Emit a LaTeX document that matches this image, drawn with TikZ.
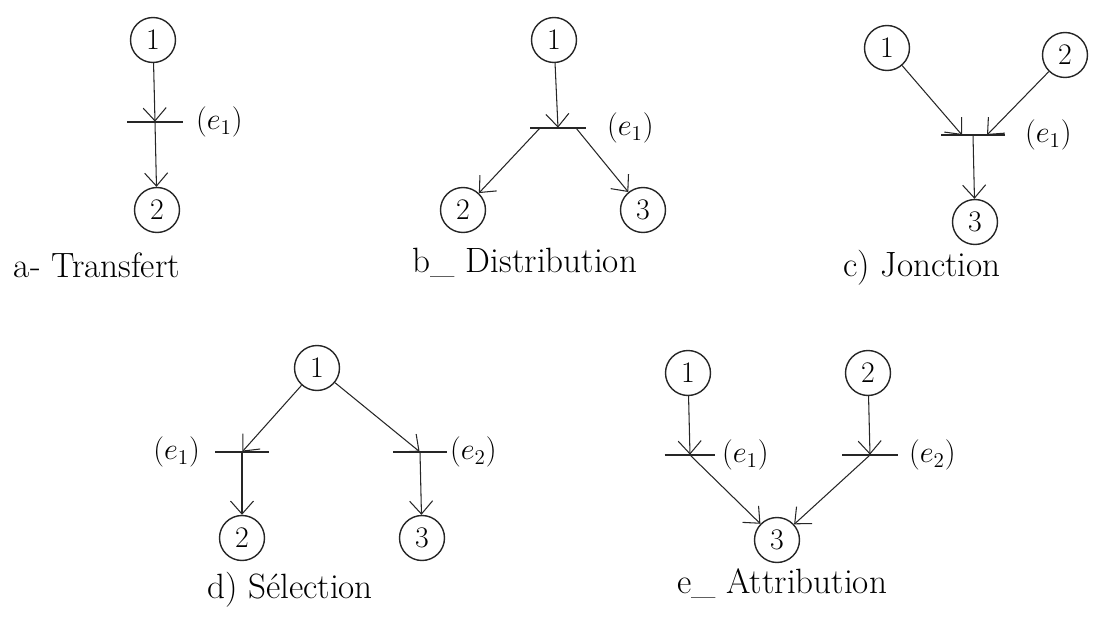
\documentclass[tikz,border=0pt]{standalone}
\usetikzlibrary{arrows.meta,positioning,calc}
\tikzset{
  place/.style={circle, draw=black!85, line width=0.8pt, minimum size=0.9cm, inner sep=0pt, font=\fontsize{17}{19}\selectfont},
  trans/.style={rectangle, minimum height=0pt, inner sep=0pt, minimum width=#1,
    append after command={(\tikzlastnode.west) edge[barLine] (\tikzlastnode.east)}},
  trans/.default=1.1cm,
  barLine/.style={draw=black!85, line width=0.6pt},
  arc/.style={-{Straight Barb[length=2.6mm,width=4.6mm]}, line width=0.6pt, draw=black!85},
  transLabel/.style={font=\fontsize{17}{19}\selectfont},
  caption/.style={font=\fontsize{20}{22}\selectfont}
}
\begin{document}
\begin{tikzpicture}[x=0.02cm, y=-0.02cm]
  \useasboundingbox (0,0) rectangle (1093,625);

  % a- Transfert
  \node[place] (a1) at (153,40) {1};
  \node[trans] (ta) at (155,122) {};
  \node[place] (a2) at (157,210) {2};
  \node[transLabel, anchor=west] (la) at (190,122) {$(e_1)$};
  \node[caption] (capa) at (97,265) {a- Transfert};
  \draw[arc] (a1) -- (ta);
  \draw[arc] (ta) -- (a2);

  % b- Distribution
  \node[place] (b1) at (554,40) {1};
  \node[trans] (tb) at (558,128) {};
  \node[place] (b2) at (463,210) {2};
  \node[place] (b3) at (643,210) {3};
  \node[transLabel, anchor=west] (lb) at (601,128) {$(e_1)$};
  \node[caption] (capb) at (525,263) {b\_ Distribution};
  \coordinate (tbL) at ($(tb)+(-18,0)$);
  \coordinate (tbR) at ($(tb)+(18,0)$);
  \draw[arc] (b1) -- (tb);
  \draw[arc] (tbL) -- (b2);
  \draw[arc] (tbR) -- (b3);

  % c) Jonction
  \node[place] (c1) at (887,48) {1};
  \node[place] (c2) at (1065,55) {2};
  \node[trans=1.26cm] (tc) at (973,135) {};
  \node[place] (c3) at (975,222) {3};
  \node[transLabel, anchor=west] (lc) at (1019,135) {$(e_1)$};
  \node[caption] (capc) at (922,268) {c) Jonction};
  \coordinate (tcL) at ($(tc)+(-11,0)$);
  \coordinate (tcR) at ($(tc)+(14,0)$);
  \draw[arc] (c1) -- (tcL);
  \draw[arc] (c2) -- (tcR);
  \draw[arc] (tc) -- (c3);

  % d) Selection
  \node[place] (d1) at (317,368) {1};
  \node[trans=1.06cm] (td1) at (242,452) {};
  \node[trans=1.06cm] (td2) at (420,452) {};
  \node[place] (d2) at (242,538) {2};
  \node[place] (d3) at (422,538) {3};
  \node[transLabel, anchor=east] (ld1) at (206,452) {$(e_1)$};
  \node[transLabel, anchor=west] (ld2) at (444,452) {$(e_2)$};
  \node[caption] (capd) at (290,590) {d) Sélection};
  \draw[arc] (d1) -- (td1);
  \draw[arc] (d1) -- (td2);
  \draw[arc] (td1) -- (d2);
  \draw[arc] (td2) -- (d3);

  % e- Attribution
  \node[place] (e1) at (688,373) {1};
  \node[place] (e2) at (868,373) {2};
  \node[trans=1.0cm] (te1) at (690,455) {};
  \node[trans=1.1cm] (te2) at (870,455) {};
  \node[place] (e3) at (777,540) {3};
  \node[transLabel, anchor=west] (le1) at (716,455) {$(e_1)$};
  \node[transLabel, anchor=west] (le2) at (903,455) {$(e_2)$};
  \node[caption] (cape) at (782,583) {e\_ Attribution};
  \draw[arc] (e1) -- (te1);
  \draw[arc] (e2) -- (te2);
  \draw[arc] (te1) -- (e3);
  \draw[arc] (te2) -- (e3);
\end{tikzpicture}
\end{document}
